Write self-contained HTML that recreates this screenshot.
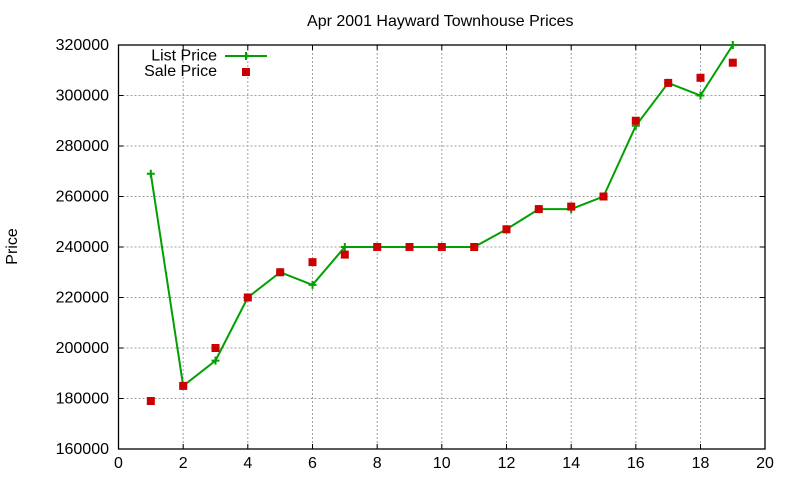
<!DOCTYPE html>
<html><head><meta charset="utf-8"><style>
html,body{margin:0;padding:0;background:#fff;}
svg{display:block;font-family:"Liberation Sans",Arial,sans-serif;}
</style></head><body>
<svg width="800" height="480" viewBox="0 0 800 480" xmlns="http://www.w3.org/2000/svg">
<rect x="0" y="0" width="800" height="480" fill="#fff"/>
<g stroke="#a0a0a0" stroke-width="1" stroke-dasharray="2,2" fill="none">
<line x1="118.5" y1="95.5" x2="765" y2="95.5"/>
<line x1="118.5" y1="146" x2="765" y2="146"/>
<line x1="118.5" y1="196.5" x2="765" y2="196.5"/>
<line x1="118.5" y1="247" x2="765" y2="247"/>
<line x1="118.5" y1="297.5" x2="765" y2="297.5"/>
<line x1="118.5" y1="348" x2="765" y2="348"/>
<line x1="118.5" y1="398.5" x2="765" y2="398.5"/>
<line x1="183.2" y1="45" x2="183.2" y2="449"/>
<line x1="247.8" y1="45" x2="247.8" y2="449"/>
<line x1="312.5" y1="45" x2="312.5" y2="449"/>
<line x1="377.2" y1="45" x2="377.2" y2="449"/>
<line x1="441.8" y1="45" x2="441.8" y2="449"/>
<line x1="506.5" y1="45" x2="506.5" y2="449"/>
<line x1="571.2" y1="45" x2="571.2" y2="449"/>
<line x1="635.8" y1="45" x2="635.8" y2="449"/>
<line x1="700.5" y1="45" x2="700.5" y2="449"/>
</g>
<g stroke="#000" stroke-width="1">
<path d="M118.5 95.5h5M118.5 146h5M118.5 196.5h5M118.5 247h5M118.5 297.5h5M118.5 348h5M118.5 398.5h5"/>
<path d="M765 95.5h-5M765 146h-5M765 196.5h-5M765 247h-5M765 297.5h-5M765 348h-5M765 398.5h-5"/>
<path d="M183.2 449v-5M247.8 449v-5M312.5 449v-5M377.2 449v-5M441.8 449v-5M506.5 449v-5M571.2 449v-5M635.8 449v-5M700.5 449v-5"/>
<path d="M183.2 45v5M247.8 45v5M312.5 45v5M377.2 45v5M441.8 45v5M506.5 45v5M571.2 45v5M635.8 45v5M700.5 45v5"/>
</g>
<rect x="118.5" y="45" width="646.5" height="404" fill="none" stroke="#000" stroke-width="1.3"/>
<g font-size="16" fill="#000" text-anchor="end">
<text x="109" y="50">320000</text>
<text x="109" y="100.5">300000</text>
<text x="109" y="151">280000</text>
<text x="109" y="201.5">260000</text>
<text x="109" y="252">240000</text>
<text x="109" y="302.5">220000</text>
<text x="109" y="353">200000</text>
<text x="109" y="403.5">180000</text>
<text x="109" y="454">160000</text>
</g>
<g font-size="16" fill="#000" text-anchor="middle">
<text x="118.5" y="468">0</text>
<text x="183.2" y="468">2</text>
<text x="247.8" y="468">4</text>
<text x="312.5" y="468">6</text>
<text x="377.2" y="468">8</text>
<text x="441.8" y="468">10</text>
<text x="506.5" y="468">12</text>
<text x="571.2" y="468">14</text>
<text x="635.8" y="468">16</text>
<text x="700.5" y="468">18</text>
<text x="765" y="468">20</text>
<text x="440.3" y="26">Apr 2001 Hayward Townhouse Prices</text>
<text transform="translate(17,246.5) rotate(-90)">Price</text>
</g>
<g font-size="16" fill="#000" text-anchor="end">
<text x="217" y="60.5">List Price</text>
<text x="217" y="76">Sale Price</text>
</g>
<g stroke="#00a000" stroke-width="2" fill="none">
<line x1="225" y1="56" x2="267" y2="56"/>
<path d="M242 56h8M246 52v8"/>
<polyline points="150.8,173.8 183.2,385.9 215.5,360.6 247.8,297.5 280.2,272.25 312.5,284.9 344.8,247 377.2,247 409.5,247 441.8,247 474.2,247 506.5,229.3 538.8,209.1 571.2,209.1 603.5,196.5 635.8,125.8 668.2,82.9 700.5,95.5 732.8,45"/>
<path d="M146.8 173.8h8M150.8 169.8v8 M179.2 385.9h8M183.2 381.9v8 M211.5 360.6h8M215.5 356.6v8 M243.8 297.5h8M247.8 293.5v8 M276.2 272.25h8M280.2 268.25v8 M308.5 284.9h8M312.5 280.9v8 M340.8 247h8M344.8 243v8 M373.2 247h8M377.2 243v8 M405.5 247h8M409.5 243v8 M437.8 247h8M441.8 243v8 M470.2 247h8M474.2 243v8 M502.5 229.3h8M506.5 225.3v8 M534.8 209.1h8M538.8 205.1v8 M567.2 209.1h8M571.2 205.1v8 M599.5 196.5h8M603.5 192.5v8 M631.8 125.8h8M635.8 121.8v8 M664.2 82.9h8M668.2 78.9v8 M696.5 95.5h8M700.5 91.5v8 M728.8 45h8M732.8 41v8"/>
</g>
<g fill="#cc0000">
<rect x="242" y="68" width="8" height="8"/>
<rect x="146.8" y="397" width="8" height="8"/>
<rect x="179.2" y="381.9" width="8" height="8"/>
<rect x="211.5" y="344" width="8" height="8"/>
<rect x="243.8" y="293.5" width="8" height="8"/>
<rect x="276.2" y="268.25" width="8" height="8"/>
<rect x="308.5" y="258.15" width="8" height="8"/>
<rect x="340.8" y="250.6" width="8" height="8"/>
<rect x="373.2" y="243" width="8" height="8"/>
<rect x="405.5" y="243" width="8" height="8"/>
<rect x="437.8" y="243" width="8" height="8"/>
<rect x="470.2" y="243" width="8" height="8"/>
<rect x="502.5" y="225.3" width="8" height="8"/>
<rect x="534.8" y="205.1" width="8" height="8"/>
<rect x="567.2" y="202.6" width="8" height="8"/>
<rect x="599.5" y="192.5" width="8" height="8"/>
<rect x="631.8" y="116.75" width="8" height="8"/>
<rect x="664.2" y="78.9" width="8" height="8"/>
<rect x="696.5" y="73.8" width="8" height="8"/>
<rect x="728.8" y="58.7" width="8" height="8"/>
</g>
</svg>
</body></html>
